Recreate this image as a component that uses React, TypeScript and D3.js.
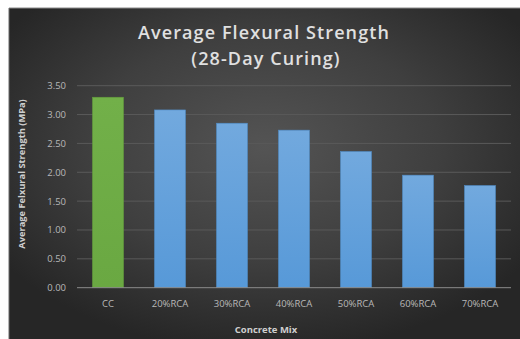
import React from "react";
import * as d3 from "d3";

const categories = ["CC", "20%RCA", "30%RCA", "40%RCA", "50%RCA", "60%RCA", "70%RCA"];
const strengths = [3.3, 3.08, 2.85, 2.73, 2.36, 1.95, 1.77];
const yTicks = [0, 0.5, 1, 1.5, 2, 2.5, 3, 3.5];

const W = 520;
const H = 339;
const plot = { left: 77, right: 511, top: 85.7, bottom: 287.7 };

export default function App() {
  const x = d3
    .scaleBand<string>()
    .domain(categories)
    .range([plot.left, plot.right])
    .paddingInner(0.5)
    .paddingOuter(0.25);
  const y = d3.scaleLinear().domain([0, 3.5]).range([plot.bottom, plot.top]);
  const fmt = d3.format(".2f");
  const font = "'Open Sans', 'DejaVu Sans', sans-serif";

  return (
    <div style={{ position: "absolute", left: 0, top: 0 }}>
      <svg width={W} height={H} style={{ display: "block" }}>
        <defs>
          <radialGradient id="bg" cx="0.5" cy="0.42" r="0.62">
            <stop offset="0" stopColor="#545454" />
            <stop offset="0.55" stopColor="#3f3f3f" />
            <stop offset="1" stopColor="#262626" />
          </radialGradient>
          <linearGradient id="blueBar" x1="0" y1="0" x2="0" y2="1">
            <stop offset="0" stopColor="#72a9de" />
            <stop offset="1" stopColor="#5799d8" />
          </linearGradient>
          <linearGradient id="greenBar" x1="0" y1="0" x2="0" y2="1">
            <stop offset="0" stopColor="#72b049" />
            <stop offset="1" stopColor="#6aa842" />
          </linearGradient>
        </defs>
        <rect x={0} y={0} width={W} height={H} fill="#ffffff" />
        <rect x={9} y={8} width={W - 9} height={H - 8} fill="url(#bg)" />
        <line x1={9} x2={W} y1={8} y2={8} stroke="#8a8a8a" strokeWidth={1} />
        <line x1={9} x2={9} y1={8} y2={H} stroke="#6a6a6a" strokeWidth={1} />

        {/* title */}
        <text
          x={264}
          y={38.5}
          textAnchor="middle"
          fill="#e0e0e0"
          fontFamily={font}
          fontWeight={600}
          fontSize={18}
          letterSpacing={1.1}
        >
          Average Flexural Strength
        </text>
        <text
          x={266}
          y={64.5}
          textAnchor="middle"
          fill="#e0e0e0"
          fontFamily={font}
          fontWeight={600}
          fontSize={18}
          letterSpacing={1.1}
        >
          (28-Day Curing)
        </text>

        {/* gridlines and y ticks */}
        {yTicks.map((t) => (
          <g key={t}>
            {t > 0 && (
              <line
                x1={plot.left}
                x2={plot.right}
                y1={y(t)}
                y2={y(t)}
                stroke="#5a5a5a"
                strokeWidth={1}
              />
            )}
            <text
              x={66}
              y={y(t) + 3.4}
              textAnchor="end"
              fill="#b8b8b8"
              fontFamily={font}
              fontSize={9.5}
            >
              {fmt(t)}
            </text>
          </g>
        ))}

        {/* bars */}
        {categories.map((c, i) => (
          <rect
            key={c}
            x={x(c)!}
            y={y(strengths[i])}
            width={x.bandwidth()}
            height={y(0) - y(strengths[i])}
            fill={i === 0 ? "url(#greenBar)" : "url(#blueBar)"}
            stroke={i === 0 ? "#639b3c" : "#4f8ac4"}
            strokeWidth={0.6}
          />
        ))}

        {/* baseline */}
        <line
          x1={plot.left}
          x2={plot.right}
          y1={y(0)}
          y2={y(0)}
          stroke="#8c8c8c"
          strokeWidth={1}
        />

        {/* x tick labels */}
        {categories.map((c) => (
          <text
            key={c}
            x={x(c)! + x.bandwidth() / 2}
            y={306.5}
            textAnchor="middle"
            fill="#b8b8b8"
            fontFamily={font}
            fontSize={9.5}
          >
            {c}
          </text>
        ))}

        {/* axis titles */}
        <text
          x={266}
          y={333}
          textAnchor="middle"
          fill="#cfcfcf"
          fontFamily={font}
          fontWeight={700}
          fontSize={9.5}
        >
          Concrete Mix
        </text>
        <text
          transform={`translate(25, 174) rotate(-90)`}
          textAnchor="middle"
          fill="#cfcfcf"
          fontFamily={font}
          fontWeight={700}
          fontSize={9.3}
        >
          Average Felxural Strength (MPa)
        </text>
      </svg>
    </div>
  );
}
